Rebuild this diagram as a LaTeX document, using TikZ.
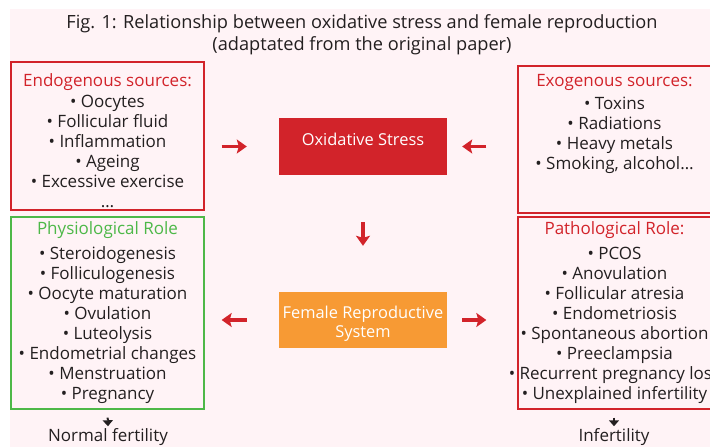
\documentclass[tikz,border=0pt]{standalone}
\usepackage{fontspec}
\setmainfont{Open Sans}
\usetikzlibrary{arrows.meta}

\definecolor{fondo}{RGB}{255,243,246}
\definecolor{rojo}{RGB}{210,35,42}
\definecolor{verde}{RGB}{77,184,72}
\definecolor{naranja}{RGB}{247,154,52}
\definecolor{texto}{RGB}{35,31,32}

\tikzset{
  redbox/.style={draw=rojo, line width=1.3pt, inner sep=0pt},
  greenbox/.style={draw=verde, line width=1.3pt, inner sep=0pt},
  listtxt/.style={align=center, anchor=north, inner sep=0pt, text=texto,
    font=\fontsize{17}{20}\selectfont},
  centerbox/.style={minimum width=168pt, inner sep=0pt, text=white, align=center,
    font=\fontsize{16.4}{19}\selectfont},
  redarr/.style={draw=rojo, line width=3.2pt,
    -{Stealth[length=10pt, width=14pt, inset=2pt]}},
  blackarr/.style={draw=texto, line width=2pt,
    -{Triangle[length=6pt, width=10pt]}}
}

\begin{document}
\begin{tikzpicture}[x=1pt, y=-1pt]
  \useasboundingbox (0,0) rectangle (710,447);
  % Fondo
  \fill[white] (0,0) rectangle (710,447);
  \fill[fondo] (10,9) rectangle (710,447);

  % Titulo
  \node[align=center, inner sep=0pt, text=texto,
    font=\fontsize{18.2}{22}\selectfont] (titulo) at (362,35)
    {Fig. 1: Relationship between oxidative stress and female reproduction\\
     (adaptated from the original paper)};

  % Cajas centrales
  \node[centerbox, fill=rojo, minimum height=57pt, text height=11pt, text depth=14pt]
    (stress) at (363,146.5) {Oxidative Stress};
  \node[centerbox, fill=naranja, minimum height=56pt]
    (female) at (363,320) {\rule{0pt}{19pt}Female Reproductive\\System};

  % Cajas laterales
  \node[redbox, minimum width=193pt, minimum height=148pt] (endo) at (107.5,136) {};
  \node[redbox, minimum width=193pt, minimum height=147pt] (exo) at (614.5,139.5) {};
  \node[greenbox, minimum width=193pt, minimum height=192pt] (physio) at (107.5,313) {};
  \node[redbox, minimum width=193pt, minimum height=192pt] (patho) at (614.5,313) {};

  \node[listtxt] (endolist) at ([yshift=-12pt]endo.north)
    {\textcolor{rojo}{Endogenous sources:}\\[1pt]
     • Oocytes\\ • Follicular fluid\\ • Inflammation\\ • Ageing\\
     • Excessive exercise\\ …};
  \node[listtxt] (exolist) at ([yshift=-9pt]exo.north)
    {\textcolor{rojo}{Exogenous sources:}\\[3pt]
     • Toxins\\ • Radiations\\ • Heavy metals\\ • Smoking, alcohol…};
  \node[listtxt] (physiolist) at ([yshift=-5pt]physio.north)
    {\textcolor{verde}{Physiological Role}\\[5pt]
     • Steroidogenesis\\ • Folliculogenesis\\ • Oocyte maturation\\
     • Ovulation\\ • Luteolysis\\ • Endometrial changes\\
     • Menstruation\\ • Pregnancy};
  \node[listtxt] (patholist) at ([yshift=-5pt]patho.north)
    {\textcolor{rojo}{Pathological Role:}\\[5pt]
     • PCOS\\ • Anovulation\\ • Follicular atresia\\ • Endometriosis\\
     • Spontaneous abortion\\ • Preeclampsia\\
     • Recurrent pregnancy loss\\ • Unexplained infertility};

  % Resultados
  \node[listtxt, anchor=center] (normal) at (108,437) {Normal fertility};
  \node[listtxt, anchor=center] (infert) at (614,437) {Infertility};

  % Flechas
  \draw[redarr, shorten <=17pt, shorten >=32pt] (endo.east |- stress.west) -- (stress.west);
  \draw[redarr, shorten <=31pt, shorten >=15pt] (exo.west |- stress.east) -- (stress.east);
  \draw[redarr, shorten <=47pt, shorten >=46pt] (stress.south) -- (female.north);
  \draw[redarr, shorten <=32pt, shorten >=17pt] (female.west) -- (physio.east |- female.west);
  \draw[redarr, shorten <=15pt, shorten >=31pt] (female.east) -- (patho.west |- female.east);
  \draw[blackarr, shorten <=8pt, shorten >=2pt] (physio.south) -- (normal.north);
  \draw[blackarr, shorten <=8pt, shorten >=2pt] (patho.south -| infert.north) -- (infert.north);
\end{tikzpicture}
\end{document}
